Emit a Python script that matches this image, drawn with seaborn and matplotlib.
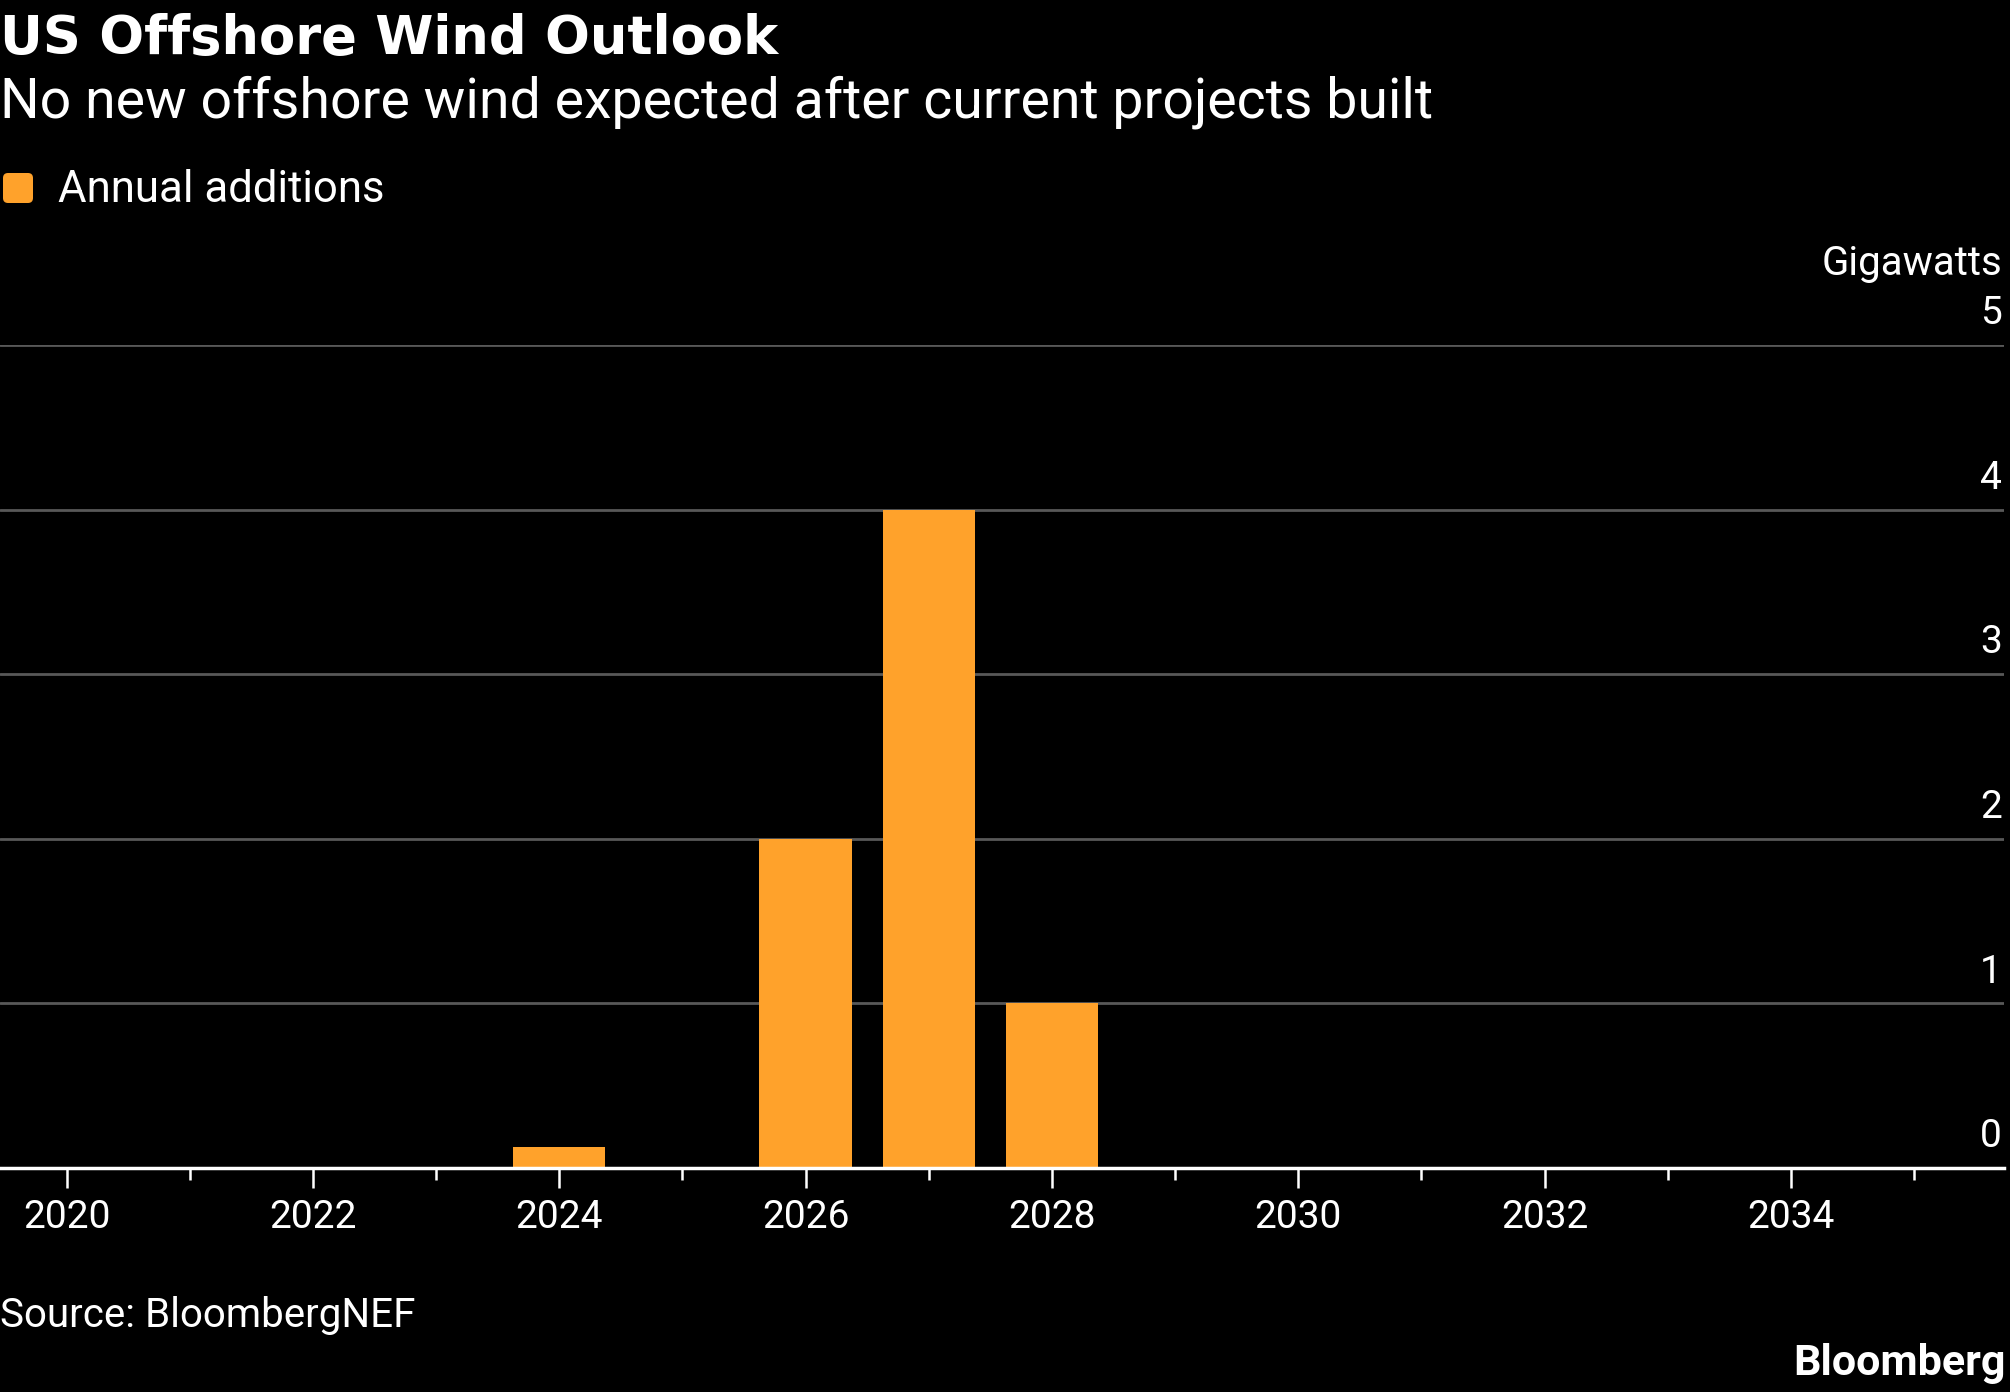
import pandas as pd
import seaborn as sns
import matplotlib.pyplot as plt
from matplotlib.patches import FancyBboxPatch
from matplotlib.ticker import MultipleLocator

# Veriler
years = [2020, 2021, 2022, 2023, 2024, 2025, 2026, 2027,
         2028, 2029, 2030, 2031, 2032, 2033, 2034, 2035]
additions = [0, 0, 0, 0, 0.13, 0, 2.0, 4.0,
             1.0, 0, 0, 0, 0, 0, 0, 0]
y_ticks = [0, 1, 2, 3, 4, 5]

title = "US Offshore Wind Outlook"
subtitle = "No new offshore wind expected after current projects built"
legend_label = "Annual additions"
unit_label = "Gigawatts"
source = "Source: BloombergNEF"

bar_color = "#FFA22B"
grid_color = "#585858"

df = pd.DataFrame({"year": years, "gw": additions})

sns.set_style("dark")
plt.rcParams['font.family'] = ['Roboto', 'DejaVu Sans']

fig = plt.figure(figsize=(20.1, 13.92), dpi=100, facecolor="black")
ax = fig.add_axes([0, 0.1609, 0.997, 0.7522 - 0.1609])
ax.set_facecolor("black")

sns.barplot(data=df, x="year", y="gw", native_scale=True, width=0.75,
            color=bar_color, saturation=1, linewidth=0, errorbar=None, ax=ax)

ax.set_xlim(2019.46, 2035.73)
ax.set_ylim(0, 5)
ax.set_xlabel("")
ax.set_ylabel("")

# yatay çizgiler + sağdaki etiketler
ax.set_yticks(y_ticks)
ax.tick_params(axis="y", left=False, labelleft=False)
for v in y_ticks[1:]:
    ax.axhline(v, color=grid_color, lw=2.0, zorder=0)
for v in y_ticks:
    ax.annotate(str(v), xy=(1.0, v), xycoords=ax.get_yaxis_transform(),
                xytext=(-1.5, 15), textcoords="offset points",
                ha="right", va="baseline", color="white", fontsize=28)

# x ekseni (ana tikler çift yıllar, ara tikler tek yıllar)
ax.xaxis.set_major_locator(MultipleLocator(2))
ax.xaxis.set_minor_locator(MultipleLocator(1))
ax.tick_params(axis="x", which="both", bottom=True, direction="out")
ax.tick_params(axis="x", which="major", length=14.4, width=1.8,
               color="white", labelcolor="white", labelsize=28, pad=8)
ax.tick_params(axis="x", which="minor", length=8.6, width=1.8, color="white")
ax.grid(False)
for s in ["top", "right", "left"]:
    ax.spines[s].set_visible(False)
ax.spines["bottom"].set_color("white")
ax.spines["bottom"].set_linewidth(2.5)
ax.spines["bottom"].set_zorder(5)

# başlıklar
fig.text(0.0, 0.9612, title, color="white", fontsize=38,
         fontweight="bold", family="DejaVu Sans", va="baseline", ha="left")
fig.text(0.0, 0.9159, subtitle, color="white", fontsize=40,
         va="baseline", ha="left")

# lejant
fig.patches.append(FancyBboxPatch((0.05, 11.91), 0.26, 0.26,
                                  boxstyle="round,pad=0.02,rounding_size=0.05",
                                  transform=fig.dpi_scale_trans,
                                  facecolor=bar_color, edgecolor="none"))
fig.text(0.0289, 0.8549, legend_label, color="white", fontsize=31.5,
         va="baseline", ha="left")

fig.text(0.996, 0.8024, unit_label, color="white", fontsize=29,
         va="baseline", ha="right")
fig.text(0.0, 0.0467, source, color="white", fontsize=29,
         va="baseline", ha="left")
fig.text(0.998, 0.0122, "Bloomberg", color="white", fontsize=31,
         fontweight="bold", va="baseline", ha="right")

fig.savefig("out.png", dpi=100, facecolor="black")
